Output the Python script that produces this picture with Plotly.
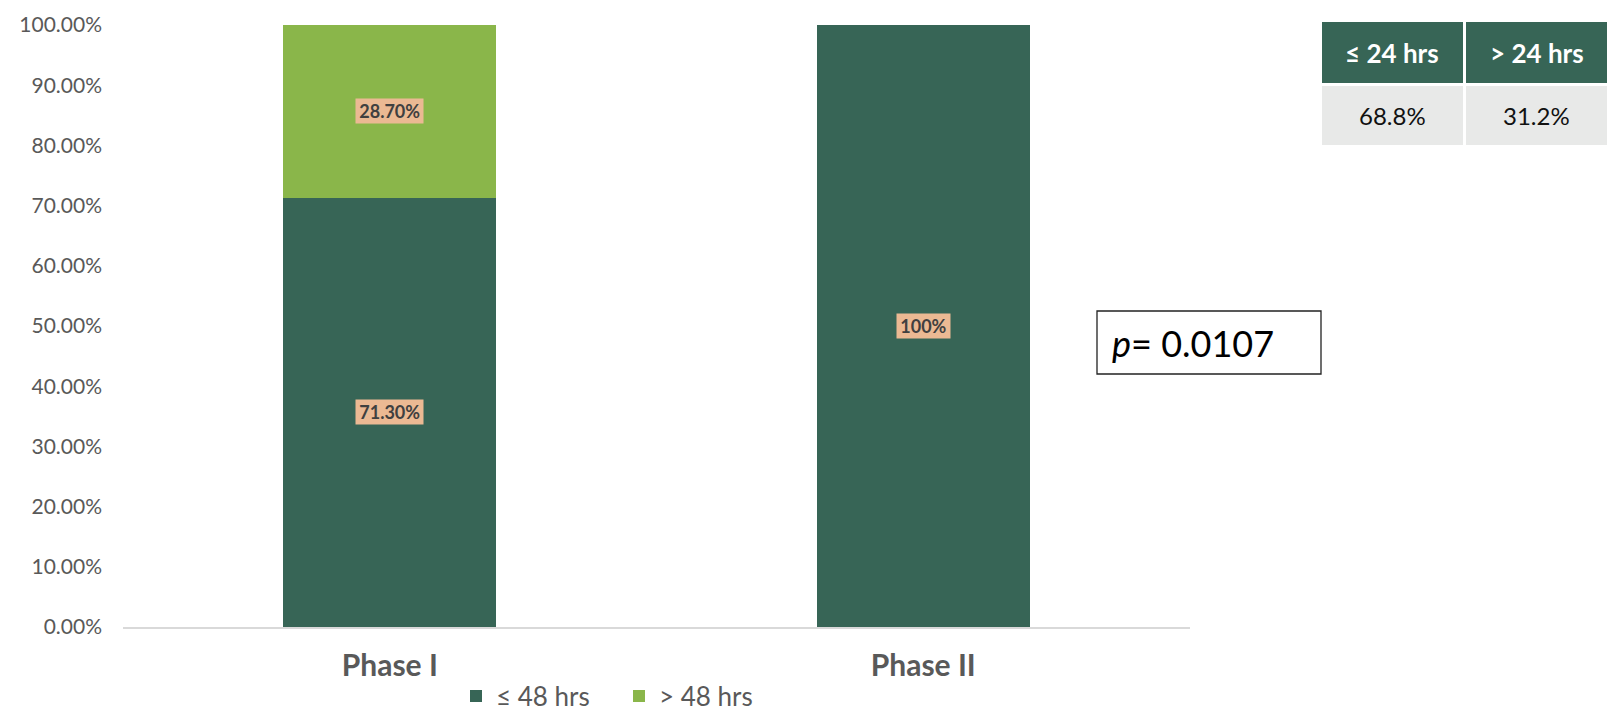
import plotly.graph_objects as go

# Chart data
phases = ["Phase I", "Phase II"]
within_48 = [71.3, 100.0]
over_48 = [28.7, 0.0]
within_48_labels = ["71.30%", "100%"]
over_48_labels = ["28.70%", ""]

# Summary table shown at the top right
table_headers = ["≤ 24 hrs", "> 24 hrs"]
table_values = ["68.8%", "31.2%"]
p_value_text = "<i>p</i>= 0.0107"

DARK = "#376556"
LIGHT = "#8AB64A"
PEACH = "#EBB993"
FONT = "Lato, 'Open Sans', sans-serif"

W, H = 1611, 714
L, R, T, B = 123, 421, 25, 87
PW, PH = W - L - R, H - T - B


def px(x):
    return (x - L) / PW


def py(y):
    return (H - B - y) / PH


fig = go.Figure()
fig.add_trace(go.Bar(name="≤ 48 hrs", x=phases, y=within_48, marker_color=DARK,
                     marker_line_width=0))
fig.add_trace(go.Bar(name="> 48 hrs", x=phases, y=over_48, marker_color=LIGHT,
                     marker_line_width=0))

annotations = []
# value labels in peach boxes centred on each segment
for cat, lo, hi, lab_lo, lab_hi in zip(phases, within_48, over_48,
                                       within_48_labels, over_48_labels):
    for y, text in ((lo / 2, lab_lo), (lo + hi / 2, lab_hi)):
        if text:
            annotations.append(dict(x=cat, y=y, xref="x", yref="y",
                                    text=f"\u2009<b>{text}</b>\u2009",
                                    showarrow=False, bgcolor=PEACH, borderpad=1,
                                    xanchor="center", yanchor="middle",
                                    font=dict(family=FONT, size=18, color="#404040")))

shapes = []
# summary table cells
cols = [(1322, 1463), (1466, 1607)]
for (x0, x1), head, val in zip(cols, table_headers, table_values):
    shapes.append(dict(type="rect", xref="paper", yref="paper", x0=px(x0), x1=px(x1),
                       y0=py(83), y1=py(22), fillcolor=DARK, line_width=0, layer="above"))
    shapes.append(dict(type="rect", xref="paper", yref="paper", x0=px(x0), x1=px(x1),
                       y0=py(145), y1=py(86), fillcolor="#E8E9E8", line_width=0, layer="above"))
    annotations.append(dict(xref="paper", yref="paper", x=px((x0 + x1) / 2), y=py(52.5),
                            xanchor="center", yanchor="middle",
                            text=f"<b>{head}</b>", showarrow=False,
                            font=dict(family=FONT, size=26, color="white")))
    annotations.append(dict(xref="paper", yref="paper", x=px((x0 + x1) / 2), y=py(115.5),
                            xanchor="center", yanchor="middle",
                            text=val, showarrow=False,
                            font=dict(family=FONT, size=24, color="#111111")))

# p-value box
shapes.append(dict(type="rect", xref="paper", yref="paper", x0=px(1097), x1=px(1321),
                   y0=py(374), y1=py(311), fillcolor="white",
                   line=dict(color="#222222", width=1.3), layer="above"))
annotations.append(dict(xref="paper", yref="paper", x=px(1110), y=py(342.5),
                        xanchor="left", yanchor="middle",
                        text=p_value_text, showarrow=False,
                        font=dict(family=FONT, size=36, color="black")))

fig.update_layout(
    width=W, height=H,
    margin=dict(l=L, r=R, t=T, b=B, autoexpand=False),
    barmode="stack", bargap=0.6,
    plot_bgcolor="white", paper_bgcolor="white",
    font=dict(family=FONT, color="#595959"),
    showlegend=True,
    legend=dict(orientation="h", x=px(456), xanchor="left", y=py(696), yanchor="middle",
                font=dict(family=FONT, size=26, color="#595959"), itemwidth=30,
                entrywidth=118, entrywidthmode="pixels",
                traceorder="normal"),
    shapes=shapes, annotations=annotations,
)
fig.update_xaxes(showline=True, linecolor="#D9D9D9", linewidth=2, showgrid=False,
                 tickfont=dict(family=FONT, size=30, color="#595959"),
                 ticks="", ticklabelstandoff=11,
                 tickvals=phases, ticktext=[f"<b>{p}</b>" for p in phases])
fig.update_yaxes(range=[0, 100], dtick=10, tickformat=".2f", ticksuffix="%",
                 showgrid=False, zeroline=False, showline=False,
                 tickfont=dict(family=FONT, size=21, color="#595959"),
                 ticklabelstandoff=20)

fig.write_html("out.html")
